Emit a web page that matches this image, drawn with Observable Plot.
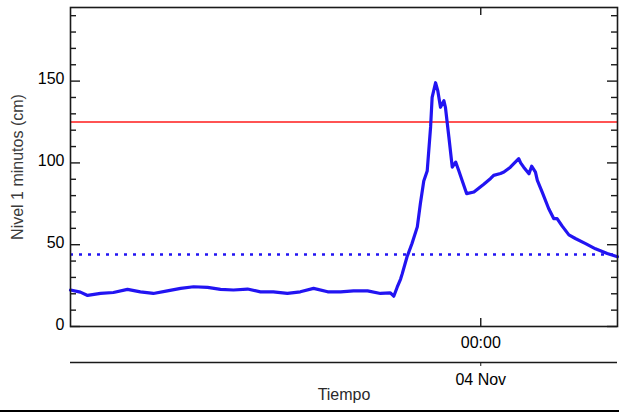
<!DOCTYPE html>
<html>
<head>
<meta charset="utf-8">
<script src="https://cdn.jsdelivr.net/npm/d3@7"></script>
<script src="https://cdn.jsdelivr.net/npm/@observablehq/plot@0.6"></script>
<style>
  html, body { margin: 0; padding: 0; background: white; }
  #chart svg { display: block; }
</style>
</head>
<body>
<div id="chart"></div>
<script>
// ---- Data ----
const times = [
  "2023-11-03T06:00","2023-11-03T06:26","2023-11-03T06:45","2023-11-03T07:19","2023-11-03T07:53",
  "2023-11-03T08:30","2023-11-03T09:04","2023-11-03T09:38","2023-11-03T10:15","2023-11-03T10:50",
  "2023-11-03T11:24","2023-11-03T12:01","2023-11-03T12:35","2023-11-03T13:09","2023-11-03T13:46",
  "2023-11-03T14:20","2023-11-03T14:54","2023-11-03T15:31","2023-11-03T16:05","2023-11-03T16:40",
  "2023-11-03T17:17","2023-11-03T17:51","2023-11-03T18:25","2023-11-03T19:02","2023-11-03T19:36",
  "2023-11-03T20:02","2023-11-03T20:11","2023-11-03T20:20","2023-11-03T20:29","2023-11-03T20:33",
  "2023-11-03T20:46","2023-11-03T20:59","2023-11-03T21:13","2023-11-03T21:21","2023-11-03T21:30",
  "2023-11-03T21:39","2023-11-03T21:48","2023-11-03T21:52","2023-11-03T22:01","2023-11-03T22:07",
  "2023-11-03T22:14","2023-11-03T22:23","2023-11-03T22:27","2023-11-03T22:36","2023-11-03T22:45",
  "2023-11-03T22:54","2023-11-03T23:02","2023-11-03T23:11","2023-11-03T23:23","2023-11-03T23:42",
  "2023-11-04T00:08","2023-11-04T00:26","2023-11-04T00:34","2023-11-04T00:52","2023-11-04T01:01",
  "2023-11-04T01:18","2023-11-04T01:27","2023-11-04T01:40","2023-11-04T01:45","2023-11-04T01:53",
  "2023-11-04T02:07","2023-11-04T02:14","2023-11-04T02:24","2023-11-04T02:29","2023-11-04T02:42",
  "2023-11-04T02:59","2023-11-04T03:12","2023-11-04T03:21","2023-11-04T03:34","2023-11-04T03:52",
  "2023-11-04T04:09","2023-11-04T04:36","2023-11-04T05:02","2023-11-04T05:33","2023-11-04T06:00"
];
const levels = [
  22.3, 21.0, 19.0, 20.2, 20.8,
  22.7, 21.2, 20.2, 21.8, 23.3,
  24.3, 23.9, 22.7, 22.3, 22.9,
  21.2, 21.2, 20.2, 21.2, 23.3,
  21.2, 21.2, 21.8, 21.8, 20.2,
  20.6, 18.5, 24.0, 29.0, 32.0,
  42.6, 50.7, 60.9, 75.0, 89.0,
  95.0, 122.0, 140.0, 149.0, 144.0,
  134.0, 138.0, 134.0, 116.0, 97.4,
  100.5, 95.4, 89.3, 81.2, 82.2,
  87.0, 90.5, 92.4, 93.5, 94.4,
  97.4, 99.5, 102.6, 100.0, 97.4,
  93.4, 98.0, 94.4, 89.3, 82.0,
  72.0, 66.0, 66.0, 61.5, 56.0,
  53.8, 50.7, 47.5, 44.6, 42.6
];
const redLevel = 125;      // solid red reference line
const dottedLevel = 44;    // dotted blue reference line
const xDomain = ["2023-11-03T06:00", "2023-11-04T06:00"];
const xTicks = ["2023-11-04T00:00"];
const yMajor = [0, 50, 100, 150];
const yMinor = [10, 20, 30, 40, 60, 70, 80, 90, 110, 120, 130, 140, 160, 170, 180, 190];
const yTitle = "Nivel 1 minutos (cm)";
const xTitle = "Tiempo";

// ---- Build ----
const parse = d3.utcParse("%Y-%m-%dT%H:%M");
const data = times.map((t, i) => ({t: parse(t), v: levels[i]}));
const tickDates = xTicks.map(parse);

const W = 619, H = 412;
const mL = 70, mR = 2, mT = 7, mB = 86;
const pw = W - mL - mR, ph = H - mT - mB;
const blue = "#2214f2";
const ink = "#1a1a1a";

const chart = Plot.plot({
  width: W,
  height: H,
  marginLeft: mL,
  marginRight: mR,
  marginTop: mT,
  marginBottom: mB,
  style: {fontFamily: "'Liberation Sans', Arial, Helvetica, sans-serif", fontSize: "16px", color: ink, background: "white"},
  x: {type: "utc", domain: xDomain.map(parse)},
  y: {domain: [0, 195]},
  marks: [
    // reference lines
    Plot.ruleY([redLevel], {stroke: "#ff1a1a", strokeWidth: 1.6}),
    Plot.ruleY([dottedLevel], {stroke: blue, strokeWidth: 2.6, strokeDasharray: "3,6"}),
    // series
    Plot.line(data, {x: "t", y: "v", stroke: blue, strokeWidth: 3.2, strokeLinejoin: "round"}),
    // frame
    Plot.frame({stroke: ink, strokeWidth: 1.6}),
    // y ticks (inward, both sides)
    Plot.tickY(yMajor, {y: d => d, stroke: ink, strokeWidth: 1.4, insetRight: pw - 10}),
    Plot.tickY(yMinor, {y: d => d, stroke: ink, strokeWidth: 1.4, insetRight: pw - 6}),
    Plot.tickY(yMajor, {y: d => d, stroke: ink, strokeWidth: 1.4, insetLeft: pw - 10}),
    Plot.tickY(yMinor, {y: d => d, stroke: ink, strokeWidth: 1.4, insetLeft: pw - 6}),
    // x ticks (inward, top and bottom)
    Plot.tickX(tickDates, {x: d => d, stroke: ink, strokeWidth: 1.4, insetTop: ph - 8}),
    Plot.tickX(tickDates, {x: d => d, stroke: ink, strokeWidth: 1.4, insetBottom: ph - 8}),
    // y labels
    Plot.axisY(yMajor, {tickSize: 0, tickPadding: 6, fontSize: 16, fill: "#000", dy: -2, label: null}),
    Plot.text([yTitle], {frameAnchor: "left", textAnchor: "middle", dx: -53, rotate: -90, fontSize: 16, fill: "#3a3a3a"}),
    // first x axis labels (time of day)
    Plot.axisX(tickDates, {tickSize: 0, tickPadding: 10, tickFormat: d3.utcFormat("%H:%M"), fontSize: 16, fill: "#000", label: null}),
    // second x axis (date)
    Plot.ruleY([0], {dy: 36, stroke: ink, strokeWidth: 1.6}),
    Plot.axisX(tickDates, {tickSize: 4, dy: 36, tickPadding: 7, tickFormat: d3.utcFormat("%d %b"), fontSize: 16, fill: "#000", label: null, stroke: ink}),
    Plot.text([xTitle], {frameAnchor: "bottom", dy: 73, fontSize: 16, fill: "#2a2a2a"}),
    // bottom rule across the whole image
    Plot.ruleY([0], {dy: 84.5, insetLeft: -mL, insetRight: -mR, stroke: "#000", strokeWidth: 2})
  ]
});

document.getElementById("chart").appendChild(chart);
</script>
</body>
</html>
